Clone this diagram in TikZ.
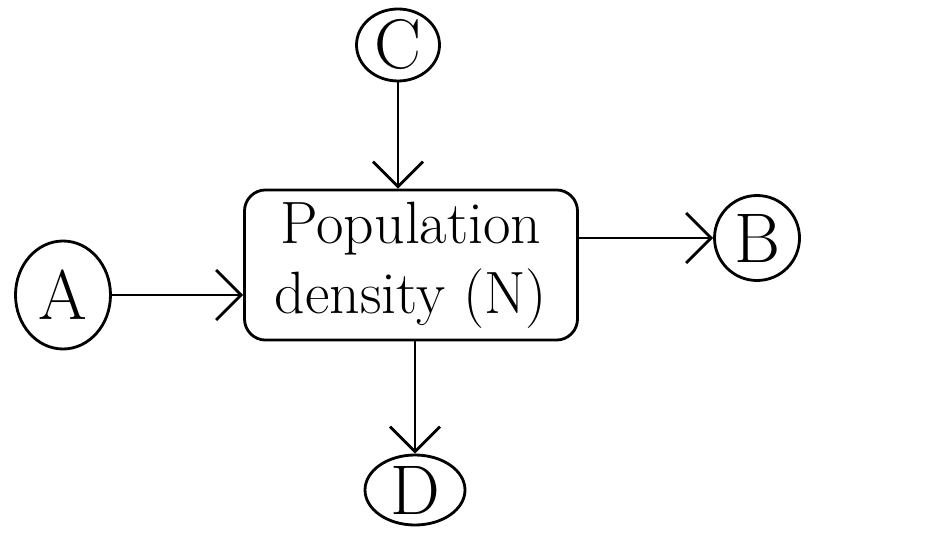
\documentclass[tikz,border=0pt]{standalone}
\usepackage{tikz}
\usetikzlibrary{arrows.meta, shapes.geometric}

\begin{document}
\begin{tikzpicture}[>={Straight Barb[length=2.5mm,width=5mm]}, thick,
    factor/.style={draw, ellipse, inner sep=0pt, font=\fontsize{20}{24}\selectfont}]
    \useasboundingbox (0,0) rectangle (9.48,5.40);
    % Hộp mật độ quần thể
    \node[draw, rounded corners=6pt, minimum width=3.33cm, minimum height=1.5cm,
          align=center, font=\fontsize{17}{20}\selectfont] (box) at (4.11,2.75)
          {Population\\density (N)};
    % Các nhân tố
    \node[factor, minimum width=0.83cm, minimum height=0.72cm] (C) at (3.98,4.95) {C};
    \node[factor, minimum width=0.95cm, minimum height=1.08cm] (A) at (0.63,2.45) {A};
    \node[factor, minimum width=0.85cm, minimum height=0.85cm] (B) at (7.57,3.02) {B};
    \node[factor, minimum width=1.0cm, minimum height=0.70cm] (D) at (4.15,0.50) {D};
    % Mũi tên
    \draw[->] (C) -- (C |- box.north);
    \draw[->] (A.east) -- (A.east -| box.west);
    \draw[->] (B -| box.east) -- (B);
    \draw[->] (box.south -| D) -- (D);
\end{tikzpicture}
\end{document}
